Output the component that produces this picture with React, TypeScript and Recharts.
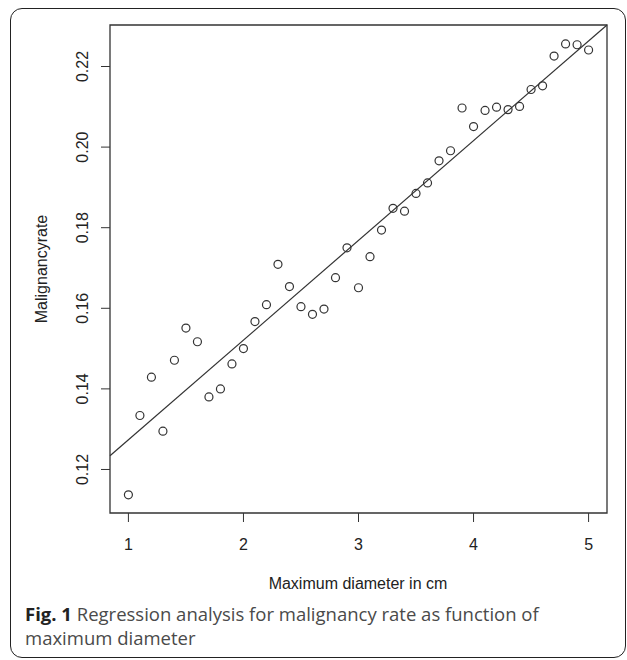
import { ScatterChart, Scatter, XAxis, YAxis, ReferenceLine, ReferenceArea } from "recharts"

// maximum diameter (cm) and malignancy rate
const diameters = [
    1.0, 1.1, 1.2, 1.3, 1.4, 1.5, 1.6, 1.7, 1.8, 1.9,
    2.0, 2.1, 2.2, 2.3, 2.4, 2.5, 2.6, 2.7, 2.8, 2.9,
    3.0, 3.1, 3.2, 3.3, 3.4, 3.5, 3.6, 3.7, 3.8, 3.9,
    4.0, 4.1, 4.2, 4.3, 4.4, 4.5, 4.6, 4.7, 4.8, 4.9, 5.0,
]
const rates = [
    0.1137, 0.1334, 0.1429, 0.1295, 0.1471, 0.1551, 0.1517, 0.138, 0.14, 0.1462,
    0.15, 0.1567, 0.1609, 0.1709, 0.1654, 0.1604, 0.1585, 0.1598, 0.1676, 0.175,
    0.1651, 0.1728, 0.1794, 0.1848, 0.1841, 0.1885, 0.1911, 0.1966, 0.1991, 0.2097,
    0.2051, 0.2091, 0.2099, 0.2093, 0.2101, 0.2143, 0.2152, 0.2226, 0.2256, 0.2254, 0.2241,
]

// regression line end points (at the plot edges)
const fitLine = [
    { x: 0.84, y: 0.1234 },
    { x: 5.16, y: 0.2303 },
]

const xTicks = [1, 2, 3, 4, 5]
const yTicks = [0.12, 0.14, 0.16, 0.18, 0.2, 0.22]
const xDomain = [0.84, 5.16]
const yDomain = [0.1092, 0.2303]

const points = diameters.map((d, i) => ({ x: d, y: rates[i] }))

const ink = "#333"
const axisFont = "Arial, 'Liberation Sans', sans-serif"

const Ring = (props: any) => (
    <circle cx={props.cx} cy={props.cy} r={4} fill="none" stroke={ink} strokeWidth={1.2} />
)

const XTick = ({ x, y, payload }: any) => (
    <text x={x} y={y + 24} textAnchor="middle" fontSize={16} fontFamily={axisFont} fill="#222">
        {payload.value}
    </text>
)

const YTick = ({ x, y, payload }: any) => (
    <text
        x={x}
        y={y}
        transform={`rotate(-90 ${x} ${y})`}
        textAnchor="middle"
        fontSize={16}
        fontFamily={axisFont}
        fill="#222"
    >
        {payload.value.toFixed(2)}
    </text>
)

export default function App() {
    return (
        <div style={{ position: "absolute", left: 0, top: 0, width: 627, height: 660, background: "#fff" }}>
            <div
                style={{
                    position: "absolute",
                    left: 10,
                    top: 8,
                    width: 616,
                    height: 650,
                    boxSizing: "border-box",
                    border: "1.5px solid #222",
                    borderRadius: 12,
                }}
            />
            <div style={{ position: "absolute", left: 0, top: 0 }}>
                <ScatterChart width={627} height={600} margin={{ top: 25, right: 20, left: 50, bottom: 57 }}>
                    <XAxis
                        type="number"
                        dataKey="x"
                        domain={xDomain}
                        ticks={xTicks}
                        allowDataOverflow
                        height={30}
                        tickSize={9}
                        tickMargin={4}
                        tick={<XTick />}
                        stroke={ink}
                        tickLine={{ stroke: ink }}
                        axisLine={false}
                    />
                    <YAxis
                        type="number"
                        dataKey="y"
                        domain={yDomain}
                        ticks={yTicks}
                        allowDataOverflow
                        width={60}
                        tickSize={9}
                        tickMargin={13}
                        tick={<YTick />}
                        stroke={ink}
                        tickLine={{ stroke: ink }}
                        axisLine={false}
                    />
                    <ReferenceArea
                        x1={xDomain[0]}
                        x2={xDomain[1]}
                        y1={yDomain[0]}
                        y2={yDomain[1]}
                        fill="none"
                        stroke={ink}
                        strokeWidth={1.3}
                        fillOpacity={0}
                    />
                    <ReferenceLine segment={fitLine} stroke={ink} strokeWidth={1.2} />
                    <Scatter data={points} shape={<Ring />} isAnimationActive={false} />
                </ScatterChart>
            </div>
            <svg width={627} height={600} style={{ position: "absolute", left: 0, top: 0, pointerEvents: "none" }}>
                <text x={358} y={589} textAnchor="middle" fontSize={16} fontFamily={axisFont} fill="#222">
                    Maximum diameter in cm
                </text>
                <text
                    x={47}
                    y={269}
                    transform="rotate(-90 47 269)"
                    textAnchor="middle"
                    fontSize={16}
                    fontFamily={axisFont}
                    fill="#222"
                >
                    Malignancyrate
                </text>
            </svg>
            <div
                style={{
                    position: "absolute",
                    left: 25,
                    top: 602,
                    width: 590,
                    fontFamily: "'Open Sans', sans-serif",
                    fontSize: 18.5,
                    lineHeight: "24px",
                    color: "#4a4a4a",
                    whiteSpace: "nowrap",
                }}
            >
                <div>
                    <span style={{ fontWeight: 700, color: "#222" }}>Fig. 1</span>
                    <span> Regression analysis for malignancy rate as function of</span>
                </div>
                <div>maximum diameter</div>
            </div>
        </div>
    )
}
